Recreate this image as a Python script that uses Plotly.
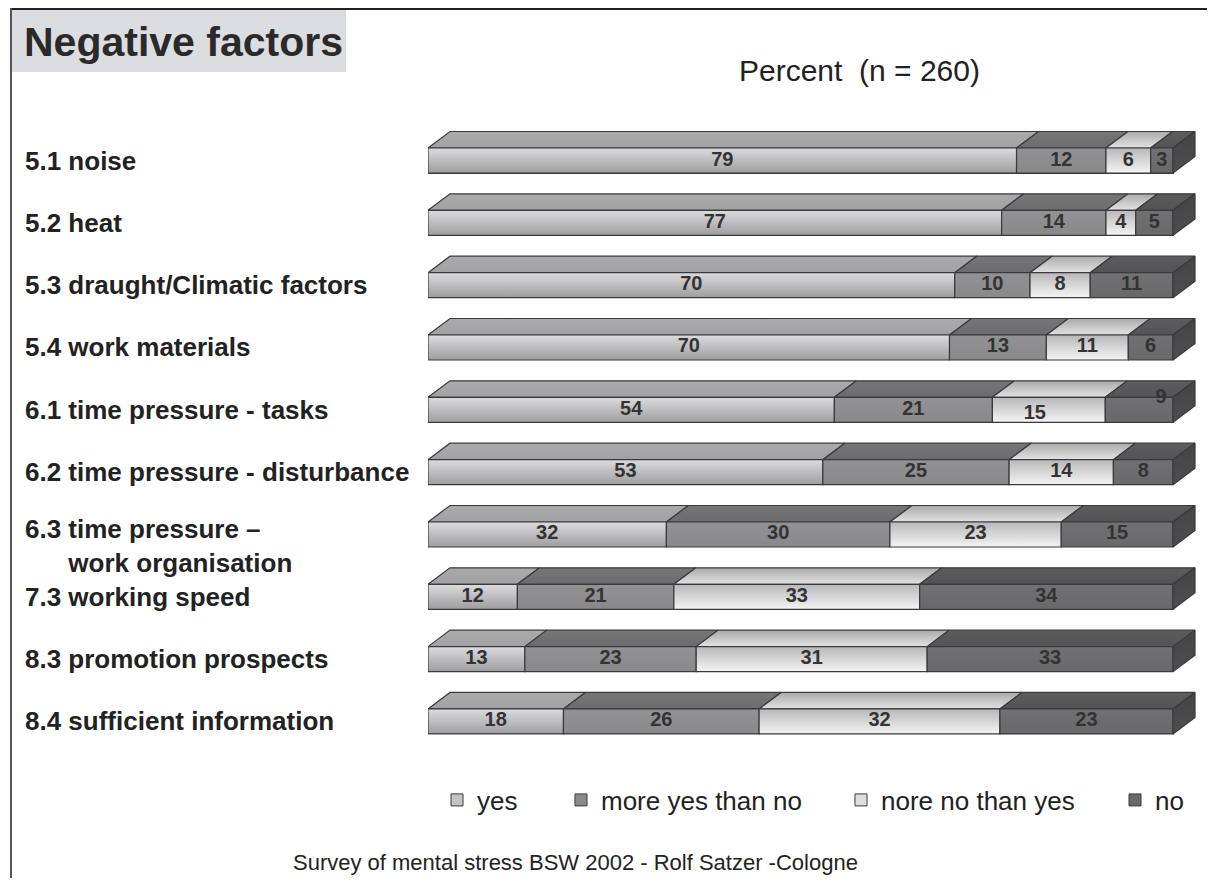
import plotly.graph_objects as go

# ---------------- data ----------------
categories = [
    "5.1 noise",
    "5.2 heat",
    "5.3 draught/Climatic factors",
    "5.4 work materials",
    "6.1 time pressure - tasks",
    "6.2 time pressure - disturbance",
    "6.3 time pressure –<br>\u00a0\u00a0\u00a0\u00a0\u00a0\u00a0work organisation",
    "7.3 working speed",
    "8.3 promotion prospects",
    "8.4 sufficient information",
]
series_names = ["yes", "more yes than no", "nore no than yes", "no"]
yes = [79, 77, 70, 70, 54, 53, 32, 12, 13, 18]
more_yes = [12, 14, 10, 13, 21, 25, 30, 21, 23, 26]
more_no = [6, 4, 8, 11, 15, 14, 23, 33, 31, 32]
no = [3, 5, 11, 6, 9, 8, 15, 34, 33, 23]
series_values = [yes, more_yes, more_no, no]

title_text = "Negative factors"
subtitle_text = "Percent  (n = 260)"
footer_text = "Survey of mental stress BSW 2002 - Rolf Satzer -Cologne"

# ---------------- geometry / style ----------------
OFF = 8  # page body margin: the figure starts 8px from the window edge
W, H = 1215 - OFF, 886 - 2 * OFF
# plot-area edges in window pixels
L, R, T, B = 428, 1205, 100, 760
PX_PER_PCT = 7.45
X_MAX = (R - L) / PX_PER_PCT
ROW_PX = 62.33
Y0_PX = 160.5
Y_TOP = (T - Y0_PX) / ROW_PX
Y_BOT = (B - Y0_PX) / ROW_PX
BAR_H = 25 / ROW_PX
DX = 22 / PX_PER_PCT
DY = 16.5 / ROW_PX
OUT = "#3a3a3c"
FONT = "Liberation Sans, Arial, Helvetica, sans-serif"

styles = [
    dict(front=("#9e9ea0", "#dcdcde"), top=("#a2a2a4", "#aaaaac"), legend="#c4c4c6"),
    dict(front=("#89898b", "#929294"), top=("#6c6c6e", "#767678"), legend="#8a8a8c"),
    dict(front=("#f4f4f4", "#b8b8ba"), top=("#e2e2e2", "#aaaaac"), legend="#dedede"),
    dict(front=("#69696b", "#717173"), top=("#545456", "#5c5c5e"), legend="#6a6a6c"),
]
SIDE = ("#4e4e50", "#444446")


def px_x(p):
    return (p - L) / (R - L)


def px_y(p):
    return (B - p) / (B - T)


n = len(categories)
idx = list(range(n))
totals = [sum(s[i] for s in series_values) for i in idx]
pct = [[s[i] / totals[i] * 100 for i in idx] for s in series_values]

fig = go.Figure()

# base stacked bars (front faces, legend)
for j, name in enumerate(series_names):
    fig.add_trace(go.Bar(
        y=idx, x=series_values[j], orientation="h", width=BAR_H, name=name,
        marker=dict(color=styles[j]["legend"], line=dict(color=OUT, width=1)),
        hoverinfo="skip",
        legend="legend" if j == 0 else f"legend{j + 1}",
    ))


# 3D faces with gradients
def poly(xs, ys, c0, c1):
    fig.add_trace(go.Scatter(
        x=xs, y=ys, mode="lines", fill="toself",
        fillgradient=dict(type="vertical", colorscale=[[0, c0], [1, c1]]),
        line=dict(color=OUT, width=1.2), hoverinfo="skip", showlegend=False,
    ))


text_x, text_y, text_s = [], [], []
nudges = {(4, 3): (22, -12), (4, 2): (-14, 4)}
for i in idx:
    yt = i - BAR_H / 2
    yb = i + BAR_H / 2
    s0 = 0.0
    for j in range(len(series_names)):
        s1 = s0 + pct[j][i]
        st = styles[j]
        poly([s0, s1, s1 + DX, s0 + DX, s0], [yt, yt, yt - DY, yt - DY, yt], *st["top"])
        poly([s0, s1, s1, s0, s0], [yt, yt, yb, yb, yt], *st["front"])
        nx, ny = nudges.get((i, j), (0, 0))
        text_x.append((s0 + s1) / 2 + nx / PX_PER_PCT)
        text_y.append(i + ny / ROW_PX)
        text_s.append(str(series_values[j][i]))
        s0 = s1
    poly([s0, s0 + DX, s0 + DX, s0, s0], [yt, yt - DY, yb - DY, yb, yt], *SIDE)

fig.add_trace(go.Scatter(
    x=text_x, y=text_y, text=text_s, mode="text", textposition="middle center",
    textfont=dict(family=FONT, size=20, color="#333333", weight="bold"),
    hoverinfo="skip", showlegend=False,
))

# ---------------- annotations ----------------
ann = []
for i, c in enumerate(categories):
    ann.append(dict(
        x=px_x(23), xref="paper", y=i, yref="y", xanchor="left", yanchor="middle",
        text=f"<b>{c}</b>", showarrow=False, align="left",
        yshift=-12 if "<br>" in c else 0,
        font=dict(family=FONT, size=26, color="#222222"),
    ))
ann.append(dict(x=px_x(22), xref="paper", y=px_y(42), yref="paper", xanchor="left",
                yanchor="middle", text=f"<b>{title_text}</b>", showarrow=False,
                font=dict(family=FONT, size=41, color="#2a2a2a")))
ann.append(dict(x=px_x(859), xref="paper", y=px_y(70), yref="paper", xanchor="center",
                yanchor="middle", text=subtitle_text, showarrow=False,
                font=dict(family=FONT, size=30, color="#222222")))
ann.append(dict(x=px_x(575), xref="paper", y=px_y(862), yref="paper", xanchor="center",
                yanchor="middle", text=footer_text, showarrow=False,
                font=dict(family=FONT, size=22, color="#222222")))

shapes = [
    dict(type="rect", xref="paper", yref="paper", x0=px_x(11), x1=px_x(346),
         y0=px_y(72), y1=px_y(10), fillcolor="#dcdde0", line=dict(width=0), layer="below"),
    dict(type="line", xref="paper", yref="paper", x0=px_x(10), x1=px_x(1215),
         y0=px_y(8.5), y1=px_y(8.5), line=dict(color="#222222", width=3)),
    dict(type="line", xref="paper", yref="paper", x0=px_x(11), x1=px_x(11),
         y0=px_y(8), y1=px_y(890), line=dict(color="#555555", width=2)),
]

legend_text_x = [477, 601, 881, 1155]
legend_common = dict(orientation="h", xanchor="left", yanchor="middle",
                     bgcolor="rgba(0,0,0,0)", borderwidth=0,
                     font=dict(family=FONT, size=26, color="#222222"))
legends = {}
for j, tx in enumerate(legend_text_x):
    key = "legend" if j == 0 else f"legend{j + 1}"
    legends[key] = dict(x=px_x(tx - 40), y=px_y(800), **legend_common)

fig.update_layout(
    width=W, height=H,
    margin=dict(l=L - OFF, r=W - (R - OFF), t=T - OFF, b=H - (B - OFF), autoexpand=False),
    paper_bgcolor="white", plot_bgcolor="white",
    barmode="stack", barnorm="percent",
    xaxis=dict(range=[0, X_MAX], visible=False, fixedrange=True),
    yaxis=dict(range=[Y_BOT, Y_TOP], visible=False, fixedrange=True),
    annotations=ann, shapes=shapes, showlegend=True,
    **legends,
)

fig.write_html("out.html")
